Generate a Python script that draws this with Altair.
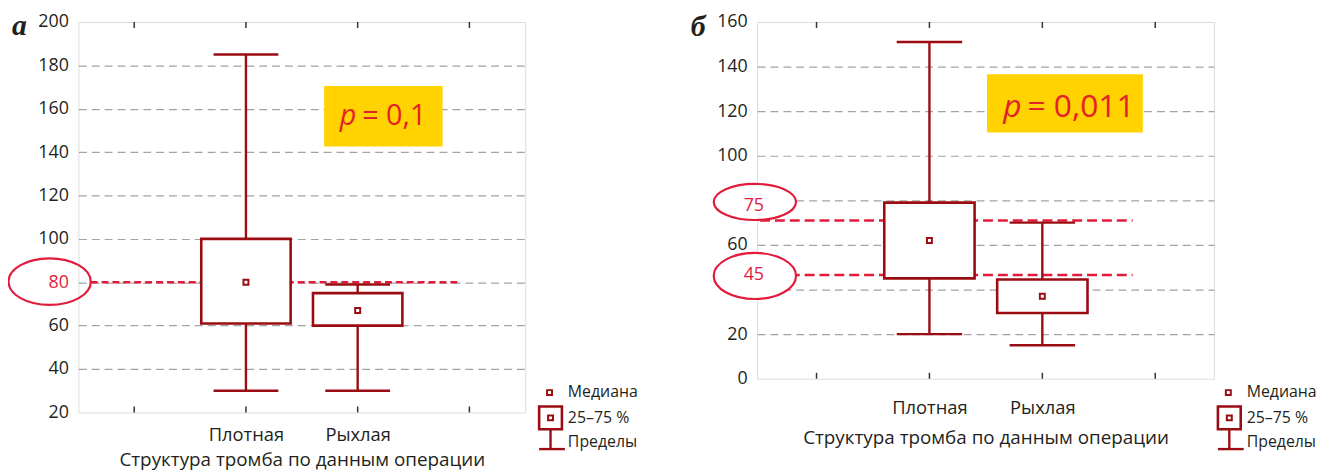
import altair as alt
import pandas as pd

# ---------------- data ----------------
categories = ["Плотная", "Рыхлая"]
cat_pos = [1, 2]

# panel а
a_min = [30, 30]
a_q1 = [61, 60]
a_med = [80, 67]
a_q3 = [100, 75]
a_max = [185, 79]
a_ref = [80]
a_yticks = [20, 40, 60, 80, 100, 120, 140, 160, 180, 200]

# panel б
b_min = [20, 15]
b_q1 = [45, 29.5]
b_med = [62, 37]
b_q3 = [79, 44.5]
b_max = [151, 70]
b_ref = [71, 46.5]
b_ref_labels = ["75", "45"]
b_ref_label_y = [77.3, 46.3]
b_yticks = [0, 20, 40, 60, 80, 100, 120, 140, 160]

x_ticks = [0, 1, 2, 3]
p_texts = ["= 0,1", "= 0,011"]
x_title = "Структура тромба по данным операции"
legend_labels = ["Медиана", "25–75 %", "Пределы"]
panel_letters = ["а", "б"]

# ---------------- style ----------------
DARK = "#9a0c12"
RED = "#e31b3b"
PRED = "#e42229"
YEL = "#ffd200"
GRID = "#a3a3a3"
INK = "#231f20"
FONT = "Open Sans"


def ellipse_path(ry):
    return f"M-1,0A1,{ry} 0 1,0 1,0A1,{ry} 0 1,0 -1,0Z"


def one():
    return pd.DataFrame({"k": [0]})


def panel(W, H, xdom, ydom, yticks, mins, q1s, meds, q3s, maxs,
          refs, ref_x, ref_dash, ell, ell_filled, ell_texts,
          pbox, ppos, ptext, pfont, letter, letter_y,
          red_label, hidden_labels, label_pad, title_pad):
    xs = alt.Scale(domain=xdom, nice=False, zero=False)
    ys = alt.Scale(domain=ydom, nice=False, zero=False)
    lab_expr = " : ".join(
        [f"datum.value == {p} ? '{c}'" for p, c in zip(cat_pos, categories)]
    ) + " : ''"
    xaxis = alt.Axis(values=cat_pos, labelExpr=lab_expr, title=x_title,
                     grid=False, domain=False, ticks=False, tickSize=0,
                     labelPadding=label_pad, labelFontSize=18.5, labelFont=FONT,
                     titleFont=FONT, titleFontSize=19, titleFontWeight="normal",
                     titlePadding=title_pad, labelColor=INK, titleColor=INK)
    if hidden_labels:
        ylab = " || ".join(f"datum.value == {v}" for v in hidden_labels) + " ? '' : datum.label"
    else:
        ylab = "datum.label"
    if red_label is not None:
        lcol = alt.condition(f"datum.value == {red_label}", alt.value(RED), alt.value(INK))
    else:
        lcol = INK
    yaxis = alt.Axis(values=yticks, title=None, domain=False, ticks=False, tickSize=0,
                     labelPadding=10, labelFontSize=18, labelFont=FONT,
                     labelColor=lcol, labelExpr=ylab,
                     grid=True, gridDash=[8, 5], gridColor=GRID, gridWidth=1.2,
                     gridOpacity=alt.condition(
                         f"datum.value == {ydom[0]} || datum.value == {ydom[1]}",
                         alt.value(0), alt.value(1)))

    def X(f):
        return alt.X(f"{f}:Q", scale=xs, axis=xaxis)

    def Y(f):
        return alt.Y(f"{f}:Q", scale=ys, axis=yaxis)

    box = pd.DataFrame({
        "pos": cat_pos, "mn": mins, "q1": q1s, "med": meds, "q3": q3s, "mx": maxs,
    })
    box["bl"] = box["pos"] - 0.4
    box["br"] = box["pos"] + 0.4
    box["cl"] = box["pos"] - 0.29
    box["cr"] = box["pos"] + 0.29

    refdf = pd.DataFrame({"y": refs, "x1": ref_x[0], "x2": ref_x[1]})
    ticks = pd.DataFrame({"t": x_ticks})

    layers = []
    # inward ticks (these layers carry the axes)
    layers.append(alt.Chart(ticks).mark_rule(color="#333", strokeWidth=1.5).encode(
        x=X("t"), y=alt.value(H), y2=alt.value(H - 6)))
    layers.append(alt.Chart(ticks).mark_rule(color="#333", strokeWidth=1.5).encode(
        x=X("t"), y=alt.value(0), y2=alt.value(6)))
    # reference dashed lines
    layers.append(alt.Chart(refdf).mark_rule(color=RED, strokeWidth=2.6, strokeDash=ref_dash).encode(
        x=X("x1"), x2="x2", y=Y("y")))
    # whiskers
    layers.append(alt.Chart(box).mark_rule(color=DARK, strokeWidth=2.4).encode(
        x=X("pos"), y=Y("mn"), y2="mx"))
    layers.append(alt.Chart(box).mark_rule(color=DARK, strokeWidth=2.4).encode(
        x=X("cl"), x2="cr", y=Y("mn")))
    layers.append(alt.Chart(box).mark_rule(color=DARK, strokeWidth=2.4).encode(
        x=X("cl"), x2="cr", y=Y("mx")))
    # boxes
    layers.append(alt.Chart(box).mark_rect(fill="white", stroke=DARK, strokeWidth=2.6).encode(
        x=X("bl"), x2="br", y=Y("q1"), y2="q3"))
    # medians
    layers.append(alt.Chart(box).mark_square(size=25, fill="white", stroke=DARK,
                                             strokeWidth=2, opacity=1).encode(
        x=X("pos"), y=Y("med")))
    # ellipses
    if ell_filled:
        emark = alt.Chart(ell).mark_point(size=6889, filled=True, fill="white", stroke=RED,
                                          strokeWidth=2.2, opacity=1)
    else:
        emark = alt.Chart(ell).mark_point(size=6889, filled=False, stroke=RED,
                                          strokeWidth=2.2, opacity=1)
    layers.append(emark.encode(x=X("ex"), y=Y("ey"),
                               shape=alt.Shape("path:N", scale=None)))
    if ell_texts is not None:
        layers.append(alt.Chart(ell_texts).mark_text(color=RED, fontSize=18, font=FONT).encode(
            x=X("tx"), y=Y("ty"), text="label:N"))
    # p-value box
    pb = pd.DataFrame({"x1": [pbox[0]], "x2": [pbox[1]], "y1": [pbox[2]], "y2": [pbox[3]]})
    layers.append(alt.Chart(pb).mark_rect(color=YEL).encode(
        x=X("x1"), x2="x2", y=Y("y1"), y2="y2"))
    pt = pd.DataFrame({"x": [ppos[0]], "y": [ppos[1]], "p": ["p"], "rest": [ptext]})
    layers.append(alt.Chart(pt).mark_text(color=PRED, fontSize=pfont, font=FONT, fontStyle="italic",
                                          align="right", baseline="middle", dx=-3).encode(
        x=X("x"), y=Y("y"), text="p:N"))
    layers.append(alt.Chart(pt).mark_text(color=PRED, fontSize=pfont, font=FONT,
                                          align="left", baseline="middle", dx=3).encode(
        x=X("x"), y=Y("y"), text="rest:N"))
    # panel letter
    layers.append(alt.Chart(one()).mark_text(text=letter, font="Liberation Serif", fontStyle="italic",
                                             fontWeight="bold", fontSize=30, color=INK,
                                             align="left", baseline="alphabetic").encode(
        x=alt.value(-67), y=alt.value(letter_y)))
    # legend
    LX = 475
    layers.append(alt.Chart(one()).mark_square(size=25, fill="white", stroke=DARK, strokeWidth=2,
                                               opacity=1).encode(
        x=alt.value(LX + 0.5), y=alt.value(374)))
    layers.append(alt.Chart(one()).mark_rect(fill="white", stroke=DARK, strokeWidth=2.6).encode(
        x=alt.value(LX - 10), x2=alt.value(LX + 13), y=alt.value(388), y2=alt.value(411)))
    layers.append(alt.Chart(one()).mark_square(size=25, fill="white", stroke=DARK, strokeWidth=2,
                                               opacity=1).encode(
        x=alt.value(LX + 1.5), y=alt.value(399.5)))
    layers.append(alt.Chart(one()).mark_rule(color=DARK, strokeWidth=2.4).encode(
        x=alt.value(LX + 1.5), y=alt.value(411), y2=alt.value(431)))
    layers.append(alt.Chart(one()).mark_rule(color=DARK, strokeWidth=2.4).encode(
        x=alt.value(LX - 10), x2=alt.value(LX + 16), y=alt.value(431)))
    for txt, yy in zip(legend_labels, [373.5, 399.5, 424]):
        layers.append(alt.Chart(one()).mark_text(text=txt, font=FONT, fontSize=16, color=INK,
                                                 align="left", baseline="middle").encode(
            x=alt.value(LX + 19), y=alt.value(yy)))
    return alt.layer(*layers).properties(width=W, height=H)


ell_a = pd.DataFrame({"ex": [-0.757], "ey": [80.3], "path": [ellipse_path(0.566)]})
ell_b = pd.DataFrame({"ex": [-0.546, -0.546], "ey": [79.3, 46.1],
                      "path": [ellipse_path(0.44), ellipse_path(0.56)]})
ell_b_txt = pd.DataFrame({"tx": [-0.555, -0.555], "ty": b_ref_label_y, "label": b_ref_labels})

left = panel(451, 394, [-0.5, 3.5], [20, 200], a_yticks, a_min, a_q1, a_med, a_q3, a_max,
             a_ref, (-0.39, 2.92), [7, 4], ell_a, False, None,
             (1.70, 2.76, 142.6, 170.5), (2.014, 156.8), p_texts[0], 29,
             panel_letters[0], 13, 80, [], 13, 7)

right = panel(461, 360, [-0.526, 3.52], [0, 160], b_yticks, b_min, b_q1, b_med, b_q3, b_max,
              b_ref, (-0.5, 2.8), [10, 5], ell_b, True, ell_b_txt,
              (1.51, 2.89, 110.4, 136.6), (1.842, 121.9), p_texts[1], 32,
              panel_letters[1], 14, None, [40, 80], 20, 12)

chart = alt.hconcat(left, right, spacing=234, bounds="flush").properties(
    padding={"left": -5, "top": 0, "right": 0, "bottom": 0}, background="white"
).configure_view(stroke="#333", strokeWidth=1.5).configure(font=FONT)

chart.save("out.html", embed_options={"renderer": "svg", "actions": False})
